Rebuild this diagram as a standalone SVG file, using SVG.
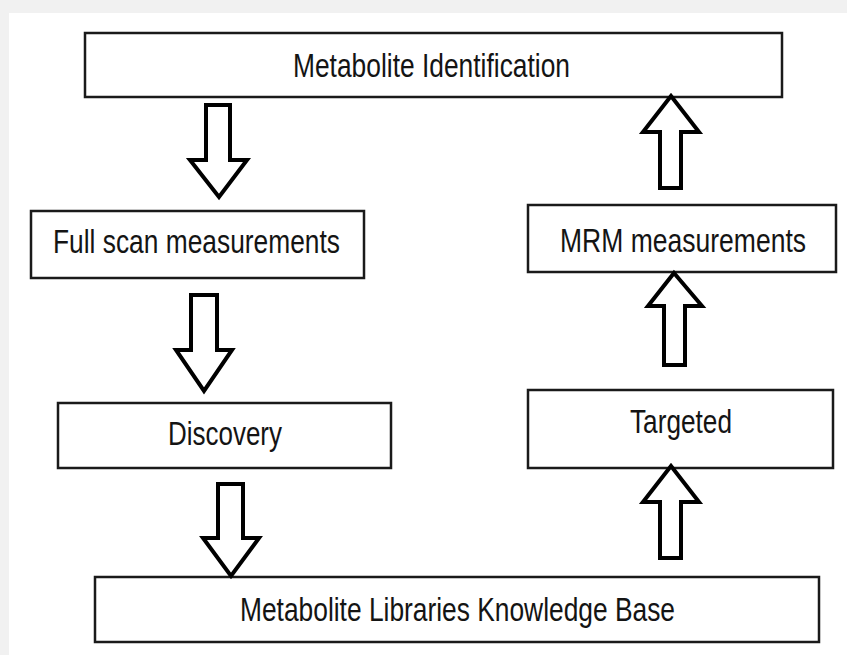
<svg xmlns="http://www.w3.org/2000/svg" width="847" height="655" viewBox="0 0 847 655">
<style>
.box{fill:#fff;stroke:#1a1a1a;stroke-width:2.5}
.lbl{font-family:"Liberation Sans",Arial,sans-serif;font-size:34px;fill:#141414}
.arr{fill:#fff;stroke:#000;stroke-width:4;stroke-linejoin:miter}
</style>
<rect x="0" y="0" width="847" height="655" fill="#f1f1f1"/>
<rect x="9" y="13" width="838" height="642" fill="#fff"/>
<g id="node-identification">
<rect class="box" x="85" y="33" width="697" height="64"/>
<text class="lbl" x="293" y="77" textLength="277" lengthAdjust="spacingAndGlyphs">Metabolite Identification</text>
</g>
<g id="node-fullscan">
<rect class="box" x="31" y="211" width="333" height="67"/>
<text class="lbl" x="53" y="253" textLength="287" lengthAdjust="spacingAndGlyphs">Full scan measurements</text>
</g>
<g id="node-discovery">
<rect class="box" x="58" y="403" width="333" height="65"/>
<text class="lbl" x="168" y="445" textLength="114" lengthAdjust="spacingAndGlyphs">Discovery</text>
</g>
<g id="node-libraries">
<rect class="box" x="95" y="577" width="724" height="65"/>
<text class="lbl" x="240" y="621" textLength="435" lengthAdjust="spacingAndGlyphs">Metabolite Libraries Knowledge Base</text>
</g>
<g id="node-mrm">
<rect class="box" x="528" y="205" width="308" height="67"/>
<text class="lbl" x="560" y="252" textLength="246" lengthAdjust="spacingAndGlyphs">MRM measurements</text>
</g>
<g id="node-targeted">
<rect class="box" x="528" y="390" width="305" height="78"/>
<text class="lbl" x="630" y="433" textLength="102" lengthAdjust="spacingAndGlyphs">Targeted</text>
</g>
<g id="connectors">
<polygon class="arr" points="206,105 230,105 230,160 247,160 219,197 190,160 206,160"/>
<polygon class="arr" points="191,295 217,295 217,350 232,350 204,391 176,350 191,350"/>
<polygon class="arr" points="218,484 243,484 243,538 259,538 231,576 203,538 218,538"/>
<polygon class="arr" points="671,96 699,132 681,132 681,188 660,188 660,132 643,132"/>
<polygon class="arr" points="674,273 702,306 685,306 685,365 664,365 664,306 648,306"/>
<polygon class="arr" points="671,466 699,502 681,502 681,558 660,558 660,502 643,502"/>
</g>
</svg>
